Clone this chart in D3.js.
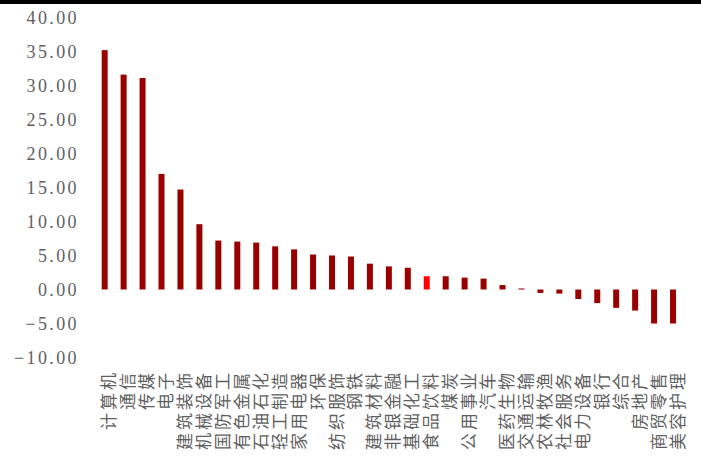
<!DOCTYPE html>
<html>
<head>
<meta charset="utf-8">
<script src="https://cdn.jsdelivr.net/npm/d3@7/dist/d3.min.js"></script>
<style>
  html, body { margin: 0; padding: 0; background: #fff; }
  svg { display: block; }
</style>
</head>
<body>
<script>
// Industry returns (%), sorted high to low
const categories = ["计算机","通信","传媒","电子","建筑装饰","机械设备","国防军工","有色金属","石油石化","轻工制造",
  "家用电器","环保","纺织服饰","钢铁","建筑材料","非银金融","基础化工","食品饮料","煤炭","公用事业",
  "汽车","医药生物","交通运输","农林牧渔","社会服务","电力设备","银行","综合","房地产","商贸零售","美容护理"];
const values = [35.2, 31.6, 31.1, 17.0, 14.7, 9.6, 7.2, 7.05, 6.9, 6.35,
  5.9, 5.15, 5.0, 4.85, 3.8, 3.4, 3.2, 1.95, 1.95, 1.75,
  1.6, 0.65, 0.15, -0.5, -0.6, -1.4, -2.0, -2.7, -3.1, -5.0, -5.0];
const highlight = "食品饮料";
const yTicks = [40, 35, 30, 25, 20, 15, 10, 5, 0, -5, -10];

const W = 701, H = 456;
const svg = d3.select("body").append("svg").attr("width", W).attr("height", H);

// thick rule across the top edge
svg.append("rect").attr("x", 0).attr("y", 0).attr("width", W).attr("height", 4).attr("fill", "#000");

const x = d3.scaleBand().domain(categories).range([95.2, 682.5]).paddingInner(0).paddingOuter(0);
const y = d3.scaleLinear().domain([-10, 40]).range([357.5, 17.5]);
const barW = 6;

// value axis: labels only, no line or ticks
const yAxis = d3.axisLeft(y).tickValues(yTicks).tickFormat(d3.format(".2f")).tickSize(0).tickPadding(0);
const gy = svg.append("g").attr("transform", "translate(79,0)").call(yAxis);
gy.select(".domain").remove();
gy.selectAll("text")
  .attr("fill", "#5f5f5f")
  .attr("font-family", "'Liberation Serif', 'DejaVu Serif', serif")
  .attr("font-size", 18)
  .attr("letter-spacing", "2.4px")
  .attr("dy", "0.34em");

// bars
svg.append("g").selectAll("rect").data(categories).join("rect")
  .attr("x", (d) => x(d) + x.bandwidth() / 2 - barW / 2)
  .attr("width", barW)
  .attr("y", (d, i) => y(Math.max(0, values[i])))
  .attr("height", (d, i) => Math.abs(y(values[i]) - y(0)))
  .attr("fill", (d) => d === highlight ? "#ff0000" : "#990000");

// category labels, rotated to read bottom-to-top
const xAxis = d3.axisBottom(x).tickSize(0).tickPadding(0);
const gx = svg.append("g").attr("transform", "translate(0,370)").call(xAxis);
gx.select(".domain").remove();
gx.selectAll("text")
  .attr("fill", "#5f5f5f")
  .attr("font-family", "'Noto Sans CJK SC', sans-serif")
  .attr("font-size", 17)
  .attr("letter-spacing", "3px")
  .attr("text-anchor", "end")
  .attr("dy", null)
  .attr("y", 0)
  .attr("transform", "translate(3,0) rotate(-90)")
  .attr("dominant-baseline", "central");
</script>
</body>
</html>
